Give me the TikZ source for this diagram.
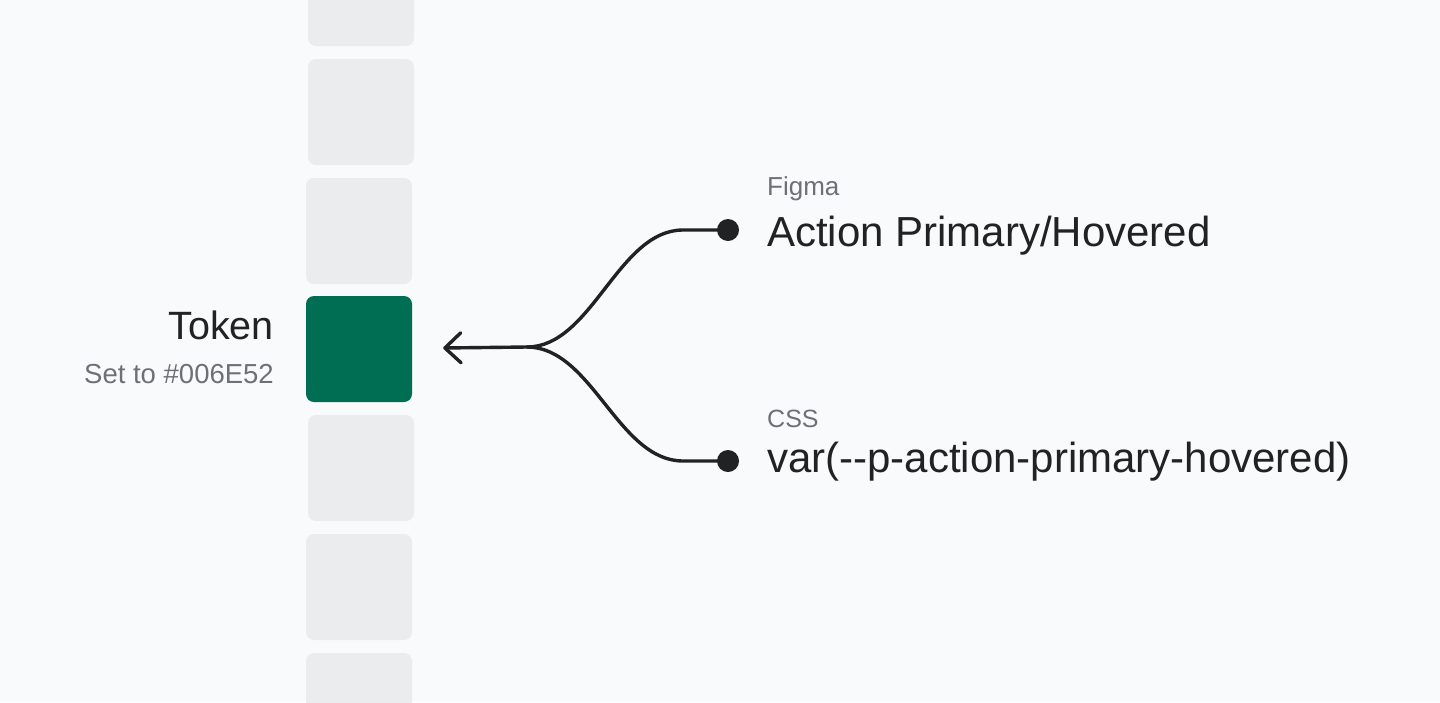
\documentclass[tikz,border=0pt]{standalone}
\usepackage{fontspec}
\setmainfont{Liberation Sans}[Ligatures=TeXOff]
\usetikzlibrary{arrows.meta}
\definecolor{bg}{HTML}{F9FAFB}
\definecolor{swatch}{HTML}{EBECEE}
\definecolor{tokgreen}{HTML}{006E52}
\definecolor{ink}{HTML}{202223}
\definecolor{muted}{HTML}{6D7175}
\tikzset{
  swatchbox/.style={fill=swatch, rounded corners=8pt},
  conn/.style={draw=ink, line width=3.4pt, line cap=round, line join=round},
  enddot/.style={circle, fill=ink, minimum size=22pt, inner sep=0pt},
  bigtext/.style={text=ink, inner sep=0pt},
  smalltext/.style={text=muted, inner sep=0pt},
}
\begin{document}
\begin{tikzpicture}[x=1pt,y=-1pt]
\fill[bg] (0,0) rectangle (1440,702);
\useasboundingbox (0,0) rectangle (1440,702);
% swatch column
\fill[swatchbox] (308,-60) rectangle (414,46);
\fill[swatchbox] (308,59) rectangle (414,165);
\fill[swatchbox] (306,178) rectangle (412,284);
\node[fill=tokgreen, rounded corners=8pt, minimum width=106pt, minimum height=106pt, inner sep=0pt] (green) at (359,349) {};
\fill[swatchbox] (308,415) rectangle (414,521);
\fill[swatchbox] (306,534) rectangle (412,640);
\fill[swatchbox] (306,653) rectangle (412,759);
% token labels
\node[bigtext, anchor=base east, font=\fontsize{39.5}{42}\selectfont] (token) at (274,339) {Token};
\node[smalltext, anchor=base east, font=\fontsize{27.5}{30}\selectfont] (tokenval) at (274,383) {Set to \#006E52};
% dots
\node[enddot] (d1) at (728,230) {};
\node[enddot] (d2) at (728,461) {};
\coordinate (j) at (527,347);
% connectors
\draw[conn] (d1.center) -- (683,230) .. controls (618,230) and (592,347) .. (j);
\draw[conn] (d2.center) -- (683,461) .. controls (618,461) and (592,347) .. (j);
\draw[conn, -{Straight Barb[length=16pt, width=30pt, line cap=round, line join=round]}, shorten >=31pt] (j) -- (green);
% right labels
\node[smalltext, anchor=base west, font=\fontsize{26}{28}\selectfont] (figlbl) at (767,195) {Figma};
\node[bigtext, anchor=base west, font=\fontsize{42}{46}\selectfont] (figname) at (767,246) {Action Primary/Hovered};
\node[smalltext, anchor=base west, font=\fontsize{25}{28}\selectfont] (csslbl) at (767,427) {CSS};
\node[bigtext, anchor=base west, font=\fontsize{42}{46}\selectfont] (cssname) at (767,472) {var(--p-action-primary-hovered)};
\end{tikzpicture}
\end{document}
